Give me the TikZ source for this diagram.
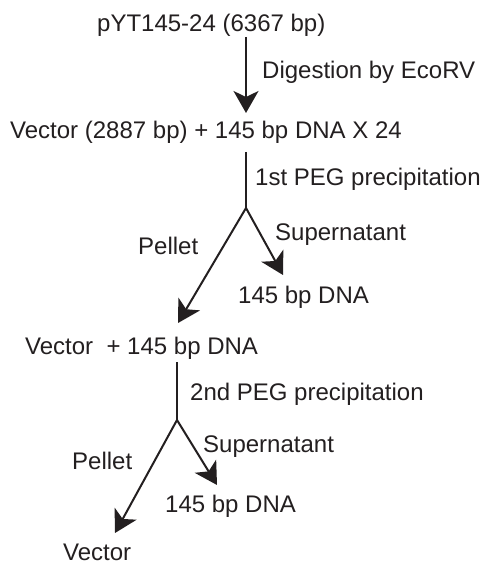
\documentclass[tikz,border=0pt]{standalone}
\usepackage{fontspec}
\setmainfont{Liberation Sans}
\usetikzlibrary{arrows.meta}
\definecolor{ink}{HTML}{231F20}
\begin{document}
\begin{tikzpicture}[x=1pt,y=-1pt,
  lbl/.style={anchor=base west,inner sep=0pt,text=ink,font=\fontsize{24}{28}\selectfont},
  conn/.style={draw=ink,line width=2pt},
  arr/.style={conn,-{Stealth[length=22pt,width=25pt,inset=6pt]}}]
\useasboundingbox (0,0) rectangle (485,564);
% texts
\node[lbl] (top)  at (97,32)  {pYT145-24 (6367 bp)};
\node[lbl] (dig)  at (262,79) {Digestion by EcoRV};
\node[lbl] (mix)  at (10,139) {Vector (2887 bp) + 145 bp DNA X 24};
\node[lbl] (peg1) at (255,185) {1st PEG precipitation};
\node[lbl] (sup1) at (275,240) {Supernatant};
\node[lbl] (pel1) at (138,254) {Pellet};
\node[lbl] (dna1) at (238,303) {145 bp DNA};
\node[lbl] (mix2) at (25,354) {Vector~ + 145 bp DNA};
\node[lbl] (peg2) at (190,400) {2nd PEG precipitation};
\node[lbl] (sup2) at (203,452) {Supernatant};
\node[lbl] (pel2) at (72,469) {Pellet};
\node[lbl] (dna2) at (165,512) {145 bp DNA};
\node[lbl] (vec)  at (63,560) {Vector};
% connector points
\coordinate (a1s) at (246,37);
\coordinate (a1e) at (246,113);
\coordinate (b1s) at (246,152);
\coordinate (br1) at (246,208);
\coordinate (p1e) at (178,323);
\coordinate (s1e) at (283,275);
\coordinate (b2s) at (177,362);
\coordinate (br2) at (177,420);
\coordinate (p2e) at (115,533);
\coordinate (s2e) at (217,485);
% connectors
\draw[arr] (a1s) -- (a1e);
\draw[conn,line cap=butt] (b1s) -- (br1);
\draw[arr] (br1) -- (p1e);
\draw[arr] (br1) -- (s1e);
\draw[conn] (b2s) -- (br2);
\draw[arr] (br2) -- (p2e);
\draw[arr] (br2) -- (s2e);
\end{tikzpicture}
\end{document}
